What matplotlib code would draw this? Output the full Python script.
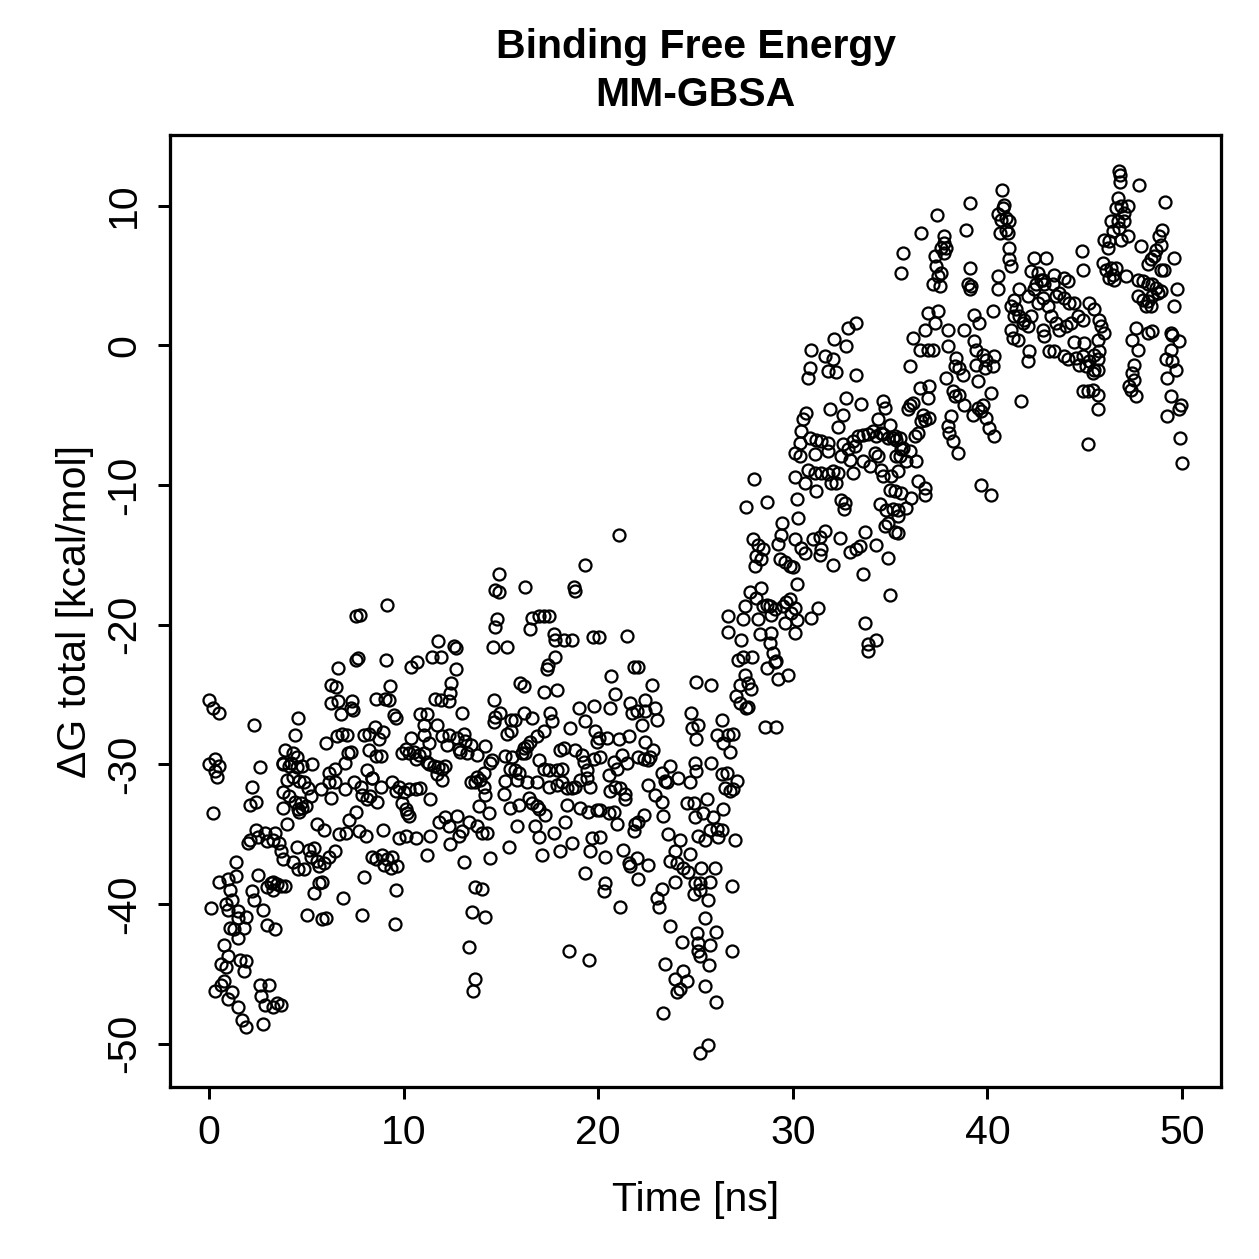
import matplotlib
matplotlib.use("Agg")
import matplotlib.pyplot as plt

plt.rcParams["font.family"] = ["Liberation Sans", "DejaVu Sans"]

# Time [ns] and dG total [kcal/mol], in 10-ns windows
t_00_10 = [
    0.0, 0.2, 0.5, 2.3, 4.6, 4.4, 0.0, 0.3, 0.5, 0.4, 0.3, 2.6,
    3.9, 4.3, 4.2, 3.8, 4.5, 3.8, 4.1, 4.3, 4.0, 4.5, 2.2, 2.1, 2.4, 0.2,
    3.8, 4.1, 3.8, 4.4, 4.6, 4.0, 2.4, 2.1, 2.0, 2.5, 2.9, 3.0, 3.4, 3.3, 3.6, 3.7, 3.8,
    4.5, 4.3, 4.6, 1.4, 0.5, 1.0, 1.4, 1.1, 1.2, 0.9, 0.1, 1.0, 1.5, 1.5, 1.9, 1.1, 1.3,
    1.8, 1.5, 0.8, 1.0, 0.6, 0.9, 1.6, 1.9, 1.8, 0.8, 0.6, 0.3, 1.2, 1.0, 1.5, 1.7, 1.9,
    2.5, 3.0, 3.2, 3.3, 3.5, 3.7, 3.9, 3.3, 2.2, 2.3, 2.8, 3.0, 3.4,
    2.6, 3.1, 2.7, 2.9, 3.3, 3.5, 3.7, 2.8,
    9.16, 7.54, 7.74, 7.54, 7.67, 9.1, 6.65, 6.25, 6.55, 9.3,
    6.25, 6.65, 7.37, 7.28, 6.77, 7.4, 8.56, 9.07, 9.25, 9.5, 9.6,
    6.03, 6.6, 6.85, 7.1, 7.96, 8.22, 8.53, 8.94, 8.73,
    7.16, 7.28, 8.22, 8.56, 8.82, 4.8, 5.3, 6.17, 6.48, 6.99, 8.1, 8.4, 9.9,
    4.63, 4.89, 5.1, 5.23, 4.72, 4.8, 4.97, 4.63,
    5.74, 6.17, 6.48, 6.25, 6.99, 7.45, 7.79, 7.88, 8.14, 8.3, 8.65, 8.82, 8.39, 9.42, 9.59, 9.76,
    5.57, 5.9, 6.68, 7.02, 7.2, 7.57, 7.71, 8.05, 8.94, 9.76,
    5.14, 5.4, 5.23, 5.57, 5.66, 5.91, 6.17, 6.48, 4.89,
    5.66, 5.83, 8.39, 8.56, 8.9, 9.16, 9.42, 9.0, 9.33, 9.67,
    7.96, 5.4, 6.89, 9.59, 5.06, 5.83, 6.0, 7.84, 9.55, 9.93,
]
g_00_10 = [
    -25.4, -26.0, -26.3, -27.2, -26.7, -27.9, -30.0, -29.6, -30.1, -30.9, -30.5, -30.2,
    -29.0, -29.2, -29.9, -29.9, -29.5, -30.0, -30.1, -30.9, -31.1, -30.2, -31.6, -32.9, -32.7, -33.5,
    -32.0, -32.3, -33.1, -32.7, -33.2, -34.3, -34.7, -35.4, -35.6, -35.2, -34.9, -35.5, -34.9, -35.4, -35.6, -36.2, -36.8,
    -35.9, -37.0, -37.5, -37.0, -38.4, -38.2, -38.0, -39.0, -39.7, -40.0, -40.3, -40.4, -40.5, -41.0, -40.9, -41.7, -41.8,
    -41.7, -42.4, -42.9, -43.7, -44.3, -44.5, -44.0, -44.1, -44.8, -45.5, -45.8, -46.2, -46.3, -46.8, -47.4, -48.3, -48.8,
    -37.9, -38.8, -38.5, -38.4, -38.6, -38.7, -38.7, -39.0, -39.1, -39.7, -40.4, -41.5, -41.8,
    -45.8, -45.8, -46.6, -47.2, -47.4, -47.1, -47.2, -48.6,
    -18.6, -19.4, -19.3, -22.5, -22.4, -22.5, -23.1, -24.3, -24.5, -24.4,
    -25.6, -25.5, -25.5, -26.0, -26.4, -26.1, -25.3, -25.3, -25.4, -26.5, -26.7,
    -28.5, -28.0, -27.8, -27.9, -27.9, -27.8, -27.3, -27.7, -28.2,
    -29.2, -29.1, -29.0, -29.4, -29.4, -30.1, -30.0, -30.6, -30.3, -29.9, -30.4, -31.0, -29.2,
    -31.2, -31.3, -31.7, -32.3, -32.8, -33.1, -33.0, -33.4,
    -31.8, -31.3, -31.3, -32.4, -31.8, -31.3, -31.6, -32.2, -32.5, -32.3, -32.7, -31.6, -31.0, -31.3, -31.9, -31.6,
    -34.3, -34.7, -35.0, -34.9, -34.0, -33.4, -34.8, -35.1, -34.7, -35.3,
    -36.1, -36.0, -36.6, -36.9, -37.3, -37.1, -36.6, -36.2, -37.5,
    -38.5, -38.4, -36.6, -36.8, -36.5, -36.8, -36.6, -37.2, -37.4, -37.3,
    -38.1, -39.2, -39.6, -39.0, -40.8, -41.1, -41.0, -40.8, -41.4, -32.8,
]

t_10_20 = [
    14.89, 14.72, 14.89, 14.8, 14.72, 14.58, 11.78, 12.58, 12.67, 11.47, 11.9, 10.36, 10.7,
    12.67, 12.46, 12.41, 11.64, 11.9, 12.33, 13.01, 14.63, 14.72, 14.63,
    10.87, 11.21, 11.04, 11.73, 10.36, 10.1, 10.53, 10.27, 10.62, 10.79, 11.04,
    11.04, 11.3, 11.21, 11.3, 11.56, 11.78, 11.98, 11.73, 11.98,
    11.98, 12.33, 12.24, 12.75, 13.1, 13.18, 12.84, 13.27, 12.92, 13.44, 12.15,
    13.78, 14.2, 14.55, 14.46, 10.02, 10.27, 10.87, 10.62, 10.1, 10.19, 10.27, 11.38,
    13.44, 13.69, 13.95, 14.12, 13.78, 14.12, 14.2, 13.86, 14.38, 14.29,
    11.81, 12.15, 12.33, 12.75, 12.41, 12.84, 13.01, 13.35, 13.78, 14.03,
    10.1, 10.62, 11.38, 11.21, 13.1, 14.46, 13.69, 14.03, 13.52, 14.17, 13.35, 13.66, 13.56,
    19.34, 16.22, 18.74, 18.82, 16.6, 16.94, 17.2, 17.45, 16.5, 17.71, 17.8, 18.22, 18.65,
    19.73, 15.32, 17.8, 17.42, 17.37, 16.0, 16.17, 17.2, 17.88,
    14.98, 15.5, 15.75, 15.32, 15.5,
    16.17, 16.6, 17.2, 16.86, 16.52, 16.34, 16.17, 16.09, 16.26, 17.54, 17.63,
    19.0, 19.34, 19.81, 18.57, 19.85, 19.93,
    15.23, 15.57, 15.49, 15.75, 15.92, 15.83, 15.23, 15.15, 16.34, 16.86,
    16.94, 17.2, 17.45, 17.88, 18.14,
    18.05, 18.22, 18.82, 19.16, 19.25, 19.42, 19.76,
    17.45, 17.88, 18.14, 18.4, 18.65, 18.82, 19.08, 19.42, 19.59,
    15.49, 15.92, 16.43, 16.6, 16.86, 16.94, 17.28,
    18.4, 18.31, 19.08, 19.5, 19.93,
    15.83, 16.77, 16.94, 17.71, 18.65, 18.05, 19.68, 19.59,
    15.4, 17.11, 19.34, 18.48, 19.54,
]
g_10_20 = [
    -16.4, -17.5, -17.7, -19.6, -20.2, -21.6, -21.2, -21.5, -21.7, -22.3, -22.3, -23.0, -22.7,
    -23.2, -24.2, -24.9, -25.3, -25.4, -25.5, -26.3, -25.4, -26.6, -27.0,
    -26.4, -26.4, -27.2, -27.2, -28.1, -28.9, -29.1, -29.2, -29.6, -29.3, -29.2,
    -27.9, -28.5, -29.8, -30.0, -30.1, -30.2, -30.3, -30.7, -31.1,
    -28.0, -27.9, -28.6, -28.1, -27.8, -28.3, -28.9, -29.2, -29.1, -28.6, -30.1,
    -29.3, -28.7, -29.7, -29.9, -32.0, -31.8, -31.7, -31.8, -33.2, -33.5, -33.7, -32.5,
    -31.3, -31.3, -31.1, -30.6, -30.9, -31.6, -32.2, -33.0, -33.5, -34.9,
    -34.1, -33.8, -34.4, -33.7, -35.7, -35.1, -34.8, -34.1, -34.4, -34.9,
    -35.1, -35.3, -35.1, -36.5, -37.0, -36.7, -38.8, -38.9, -40.6, -40.9, -43.1, -45.4, -46.2,
    -15.7, -17.3, -17.3, -17.6, -19.5, -19.4, -19.4, -19.4, -20.3, -20.7, -21.1, -21.1, -21.1,
    -20.9, -21.6, -22.3, -22.9, -23.2, -24.2, -24.4, -24.8, -24.7,
    -26.3, -26.8, -26.8, -27.8, -27.6,
    -26.3, -26.7, -27.6, -28.0, -28.4, -28.7, -28.8, -29.2, -29.2, -26.3, -26.9,
    -26.0, -26.9, -25.8, -27.4, -27.6, -28.4,
    -29.4, -29.5, -30.3, -30.4, -30.6, -31.1, -31.2, -32.1, -31.3, -31.3,
    -29.7, -30.3, -30.4, -30.4, -30.3,
    -29.0, -28.8, -29.0, -29.3, -29.8, -30.4, -29.6,
    -31.6, -31.5, -31.3, -31.7, -31.7, -31.6, -31.1, -31.0, -31.6,
    -33.1, -32.9, -32.4, -32.8, -33.0, -33.2, -33.6,
    -32.9, -34.1, -33.1, -33.4, -33.3,
    -34.4, -34.4, -35.2, -34.9, -35.6, -36.2, -35.3, -36.2,
    -35.9, -36.5, -37.8, -43.4, -44.0,
]

t_20_30 = [
    20.02, 21.05, 21.47, 21.82, 22.04, 20.67, 22.79,
    20.88, 20.62, 21.64, 21.73, 21.99, 22.41, 22.41, 22.93, 23.01, 22.24, 24.77, 24.84,
    20.02, 20.45, 21.05, 21.56, 20.11, 20.79, 20.96, 21.22, 21.47,
    22.41, 22.84, 22.67, 22.07, 22.33, 22.58, 23.27, 23.7, 23.53, 23.44, 24.12, 24.72, 24.98, 20.53,
    20.62, 20.88, 21.13, 21.39, 21.39, 22.58, 22.93, 23.27, 23.35,
    20.11, 20.53, 20.79, 20.96, 22.07, 21.9, 22.33, 21.82, 24.55, 24.9, 24.98,
    23.61, 24.21, 23.95, 24.72, 23.7, 24.04, 24.38, 24.64, 25.3,
    20.11, 20.36, 21.3, 21.56, 21.64, 21.99, 22.58, 22.07,
    23.27, 23.01, 23.1, 23.95, 24.98, 24.9, 20.36, 20.28, 21.13,
    23.7, 24.3, 25.06, 25.15, 23.44, 24.38, 23.95, 24.55, 24.21, 24.04, 23.35,
    28.01, 28.65, 27.62, 29.45, 29.38, 29.24,
    27.96, 28.22, 28.47, 28.13, 28.39, 28.05, 29.33, 29.58, 29.84, 30.01,
    27.79, 28.39, 28.13, 28.47, 28.65, 28.82, 29.07, 28.9, 29.5, 29.67, 29.84, 29.93, 29.58,
    27.53, 26.68, 27.45, 28.22,
    26.65, 27.36, 28.3, 28.9, 28.82, 28.99, 29.16, 29.07, 28.65, 29.24, 29.75,
    27.19, 27.45, 27.91, 27.53, 27.28, 27.7, 27.84, 27.1, 27.28, 27.62, 27.7,
    25.82, 25.05, 28.56, 29.16,
    26.34, 26.08, 26.42, 26.68, 26.94, 26.77, 25.82, 25.14, 25.05, 25.05,
    26.34, 26.6, 26.51, 26.77, 26.94, 27.11,
    25.57, 25.4, 25.91, 26.42, 25.74, 26.08, 26.34, 25.14, 25.48, 26.17, 27.02,
    25.99, 25.74, 25.23, 25.23, 25.65, 26.85, 25.48,
    26.07, 25.73, 26.9, 25.13, 25.22, 25.68, 25.51, 26.07, 25.65, 25.22,
]
g_20_30 = [
    -20.9, -13.6, -20.8, -23.0, -23.0, -23.7, -24.3,
    -25.0, -26.0, -25.6, -26.3, -26.2, -25.4, -26.2, -26.0, -26.8, -27.2, -26.3, -27.4,
    -28.1, -28.1, -28.2, -28.0, -29.5, -29.8, -30.3, -29.3, -29.9,
    -28.4, -29.0, -29.5, -29.5, -29.6, -29.7, -30.6, -30.1, -31.3, -31.2, -31.0, -31.3, -29.9, -30.8,
    -31.9, -31.6, -31.7, -32.1, -32.5, -31.5, -32.2, -32.7, -33.7,
    -33.3, -33.5, -33.4, -34.3, -34.1, -34.3, -33.6, -34.8, -32.8, -32.8, -33.8,
    -35.0, -35.4, -36.2, -36.4, -36.9, -37.1, -37.4, -37.7, -37.4,
    -35.2, -36.6, -36.1, -37.1, -37.3, -36.7, -37.2, -38.2,
    -38.9, -39.6, -40.2, -38.4, -38.5, -39.3, -38.5, -39.1, -40.2,
    -41.6, -42.7, -42.1, -42.8, -44.3, -44.8, -45.4, -45.5, -46.1, -46.3, -47.8,
    -9.6, -11.2, -11.6, -12.7, -13.6, -14.2,
    -13.9, -14.3, -14.6, -15.1, -15.3, -15.8, -15.3, -15.5, -15.8, -15.9,
    -17.7, -17.4, -18.1, -18.7, -18.6, -18.7, -18.9, -19.3, -18.7, -18.4, -18.2, -19.2, -19.9,
    -18.7, -19.4, -19.6, -19.6,
    -20.5, -21.1, -20.7, -20.6, -21.3, -22.0, -22.6, -22.7, -23.1, -23.9, -23.6,
    -22.5, -22.3, -22.3, -23.6, -24.3, -24.2, -24.6, -25.1, -25.6, -26.0, -25.9,
    -24.3, -24.1, -27.3, -27.3,
    -26.8, -27.9, -28.5, -27.9, -27.8, -29.1, -29.9, -27.2, -28.2, -30.5,
    -30.7, -30.6, -31.7, -31.9, -31.8, -31.2,
    -32.5, -33.5, -33.8, -33.2, -34.7, -34.6, -34.7, -35.1, -35.4, -35.2, -35.4,
    -37.4, -38.4, -38.5, -39.0, -39.7, -38.7, -41.0,
    -42.0, -42.9, -43.4, -43.4, -43.7, -44.4, -45.9, -47.0, -50.1, -50.7,
]

t_30_40 = [
    30.1, 33.26, 32.84, 32.12, 32.75, 30.92, 31.64, 32.07, 31.81, 32.24, 33.26, 30.87, 30.78,
    32.75, 33.52, 34.63, 34.72, 30.7, 30.53, 31.9, 32.58, 32.32,
    34.37, 34.97, 34.12, 34.54, 34.29, 35.23,
    30.44, 30.36, 30.87, 31.21, 31.47, 31.81, 32.58, 33.09, 33.35, 33.6, 33.86, 34.63, 34.89, 35.14,
    30.1, 30.36, 31.13, 31.81, 32.49, 32.84, 33.18, 32.92, 33.6, 33.95, 34.2, 34.37, 35.31, 35.57,
    30.78, 31.13, 31.47, 31.81, 32.07, 32.32, 31.98, 32.24, 30.61, 31.21, 33.09, 34.54, 34.63, 35.06, 35.23, 34.97,
    30.19, 30.27, 32.49, 32.63, 32.66,
    34.46, 34.8, 35.14, 34.89, 34.72, 35.23, 35.4,
    30.1, 30.44, 30.61, 31.04, 31.38, 31.64, 31.47, 31.38, 32.41, 32.92, 33.26, 33.43, 33.69, 34.29, 34.89, 32.07,
    33.6, 30.19, 30.1, 30.19, 30.1, 30.95, 31.3,
    34.97, 33.69, 34.29, 33.86, 33.86,
    39.08, 37.42, 36.6, 38.9, 35.66, 35.57,
    37.76, 37.79, 37.88, 37.62, 37.79, 37.28, 37.37, 37.62, 37.45, 37.2, 37.54,
    39.08, 39.0, 39.16, 39.08,
    36.94, 37.45, 36.77, 37.28, 37.96, 36.17, 36.51, 36.94, 37.2, 37.96, 38.82, 39.33, 39.59, 40.27,
    36.0, 37.88, 38.39, 38.31, 38.56, 38.73, 39.33, 39.42, 39.76, 39.93, 40.36, 39.42, 39.85, 39.5, 40.27,
    36.51, 37.02, 36.94, 36.0, 36.17, 35.91, 36.68, 36.77, 37.02, 36.6, 36.43, 36.26, 35.49, 35.32,
    38.22, 38.31, 38.56, 38.82, 38.14, 37.96, 38.05, 38.22, 38.48,
    39.25, 39.5, 39.76, 40.19, 39.93, 40.1, 39.67,
    35.66, 36.0, 35.49, 35.83, 36.34, 35.4, 36.43, 36.77, 35.57, 36.09, 35.83, 36.77, 35.4, 35.4,
    39.67, 40.19,
]
g_30_40 = [
    -9.4, 1.6, 1.25, 0.46, -0.02, -0.35, -0.78, -1.02, -1.86, -1.93, -2.1, -1.62, -2.33,
    -3.76, -4.24, -4.0, -4.5, -4.84, -5.3, -4.6, -4.96, -5.84,
    -5.3, -5.7, -6.15, -6.27, -6.5, -6.5,
    -6.15, -6.99, -6.63, -6.75, -6.87, -6.99, -7.1, -6.87, -6.5, -6.46, -6.39, -6.39, -6.63, -6.63,
    -7.7, -7.94, -7.82, -7.58, -7.94, -7.46, -7.23, -8.18, -8.3, -8.66, -7.7, -7.94, -7.94, -7.46,
    -8.9, -9.13, -9.13, -9.25, -9.01, -9.13, -9.85, -9.85, -9.85, -10.45, -9.13, -8.9, -9.37, -9.37, -10.45, -10.33,
    -11.04, -12.36, -11.09, -11.7, -11.3,
    -11.4, -11.76, -11.7, -12.7, -12.95, -13.4, -11.76,
    -13.9, -14.5, -14.9, -13.9, -13.7, -13.3, -14.6, -15.0, -13.8, -14.8, -14.6, -14.4, -13.4, -14.3, -15.2, -15.7,
    -16.4, -17.1, -18.8, -19.7, -20.6, -19.5, -18.8,
    -17.85, -19.9, -21.1, -21.4, -21.9,
    10.19, 9.31, 8.05, 8.28, 6.61, 5.18,
    7.81, 7.33, 6.97, 6.97, 6.61, 6.37, 5.66, 5.18, 4.94, 4.35, 4.23,
    5.54, 4.35, 4.23, 3.99,
    2.32, 2.48, 1.12, 1.6, 1.12, 0.53, -0.31, -0.31, -0.31, -0.07, 1.12, 2.2, 1.6, 2.44,
    -1.5, -2.34, -0.9, -1.5, -1.62, -2.1, 0.29, -0.31, -0.67, -1.03, -0.79, -1.38, -1.62, -2.58, -1.5,
    -3.05, -2.93, -3.77, -4.25, -4.13, -4.6, -4.96, -5.32, -5.2, -5.44, -6.27, -6.51, -6.63, -6.75,
    -3.29, -3.65, -3.53, -4.25, -5.08, -5.8, -6.27, -6.87, -7.71,
    -4.96, -4.48, -4.25, -3.41, -5.2, -5.92, -4.72,
    -7.35, -7.59, -7.95, -8.3, -8.3, -9.01, -9.73, -10.21, -10.57, -10.93, -11.64, -10.69, -12.24, -13.43,
    -9.97, -10.69,
]

t_40_50 = [
    40.74, 40.87, 40.79, 40.53, 40.7, 40.96, 41.13, 40.96, 40.62, 41.04,
    41.13, 41.13, 41.21, 40.53, 40.53, 40.36,
    42.41, 43.01, 44.84, 44.89,
    42.24, 42.58, 42.75, 42.5, 42.92, 42.84, 43.44, 43.35, 43.95, 44.12,
    41.64, 41.38, 42.07, 42.41, 42.84, 43.52, 43.69, 43.95, 44.21, 44.46, 45.23, 45.49,
    41.21, 41.47, 41.64, 41.9, 42.07, 41.81, 41.38, 42.24, 42.58, 43.09, 43.26, 43.52, 43.69, 44.04, 44.29, 44.63, 44.89,
    41.21, 41.3, 41.56, 42.15, 42.07, 42.84, 42.92, 43.18, 43.44, 43.95, 44.12, 44.55, 44.72, 44.89,
    45.06, 45.23, 45.49, 45.49, 45.66, 45.4, 44.46, 44.97,
    44.89, 45.15, 45.4, 45.66, 45.66, 41.73, 45.15,
    46.77, 46.82, 46.82, 47.8, 49.11,
    46.69, 46.86, 47.2, 46.6, 47.03, 46.34, 46.69, 47.03, 46.43, 46.77, 47.2, 46.0, 46.26, 46.17, 46.86,
    48.99, 48.82, 48.91, 48.65, 48.57, 48.4, 48.23, 49.08, 48.91, 49.59, 47.88,
    45.92, 46.09, 46.34, 46.6, 46.43, 46.26, 46.52, 47.11,
    47.71, 47.97, 48.23, 48.48, 48.65, 48.74, 48.91, 47.71, 47.97, 48.23, 48.4, 48.14, 48.48,
    49.76, 49.59,
    45.75, 45.83, 46.0, 45.66, 45.75, 45.66,
    47.63, 47.45, 47.71, 48.23, 48.48,
    47.54, 47.45, 47.54, 47.28, 47.37, 47.63,
    49.42, 49.5, 49.85, 49.42, 49.16, 49.5, 49.68, 49.25, 49.42, 49.93, 49.85, 49.25,
    49.9, 50.02,
]
g_40_50 = [
    11.1, 10.07, 9.83, 9.36, 9.0, 9.12, 8.88, 8.28, 8.05, 8.05,
    6.97, 6.14, 5.66, 4.94, 3.99, -6.5,
    6.26, 6.26, 6.73, 5.42,
    5.3, 5.18, 4.7, 4.35, 4.35, 4.7, 5.06, 4.35, 4.82, 4.58,
    3.99, 3.27, 3.51, 3.99, 3.39, 3.51, 3.75, 3.39, 3.03, 3.03, 3.03, 2.56,
    2.8, 2.56, 2.08, 1.84, 1.36, 1.6, 2.08, 2.08, 3.03, 2.8, 2.08, 1.6, 1.12, 1.36, 1.6, 2.08, 1.84,
    1.12, 0.53, 0.41, -0.43, -1.14, 1.12, 0.65, -0.43, -0.43, -0.78, -1.02, -0.9, -1.38, -0.78,
    -1.5, -1.14, -0.67, -1.74, -1.74, -1.98, 0.23, 0.17,
    -3.29, -3.29, -3.17, -3.53, -4.6, -4.0, -7.1,
    12.45, 12.22, 11.67, 11.5, 10.24,
    10.55, 9.95, 9.95, 9.83, 9.47, 8.88, 8.88, 8.88, 8.16, 8.4, 7.8, 7.56, 7.44, 6.97, 7.56,
    8.28, 7.8, 7.21, 6.85, 6.37, 6.14, 5.78, 5.42, 5.42, 6.25, 7.09,
    5.9, 5.42, 5.54, 5.54, 5.06, 4.82, 4.7, 4.94,
    4.7, 4.58, 4.35, 4.35, 4.11, 3.75, 3.87, 3.51, 3.27, 3.15, 2.8, 2.8, 3.51,
    3.99, 2.8,
    1.84, 1.36, 0.88, 0.41, -0.43, -1.02,
    1.24, 0.41, -0.31, 0.88, 1.0,
    -1.38, -1.98, -2.46, -2.93, -3.17, -3.65,
    0.88, 0.76, 0.29, -0.31, -1.02, -1.14, -1.74, -2.34, -3.65, -4.25, -4.6, -5.08,
    -6.64, -8.43,
]

time_ns = t_00_10 + t_10_20 + t_20_30 + t_30_40 + t_40_50
dg_total = g_00_10 + g_10_20 + g_20_30 + g_30_40 + g_40_50

W = H = 1259
fig = plt.figure(figsize=(W / 180, H / 180), dpi=180)
ax = fig.add_axes([170 / W, 1 - 1087 / H, (1221 - 170) / W, (1087 - 135) / H])

ax.plot(time_ns, dg_total, linestyle="none", marker="o", markersize=4.8,
        markerfacecolor="none", markeredgecolor="black", markeredgewidth=0.9)

ax.set_xlim(-2, 52)
ax.set_ylim(-53.1, 15.05)
ax.set_xticks([0, 10, 20, 30, 40, 50])
ax.set_yticks([-50, -40, -30, -20, -10, 0, 10])
ax.set_yticklabels(["-50", "-40", "-30", "-20", "-10", "0", "10"], rotation=90, va="center")

for s in ax.spines.values():
    s.set_linewidth(1.3)
ax.tick_params(direction="out", length=4.8, width=1.2, labelsize=16.4, pad=6)

cx = (170 + 1221) / 2 / W
fig.text(cx, 1 - 47 / H, "Binding Free Energy", ha="center", va="center",
         fontsize=16.4, fontweight="bold")
fig.text(cx, 1 - 95 / H, "MM-GBSA", ha="center", va="center",
         fontsize=16.4, fontweight="bold")
fig.text(cx, 1 - 1200 / H, "Time [ns]", ha="center", va="center", fontsize=16.4)
fig.text(75 / W, 1 - 611 / H, "ΔG total [kcal/mol]", ha="center", va="center",
         rotation=90, fontsize=16.4)

fig.savefig("out.png", dpi=180)
